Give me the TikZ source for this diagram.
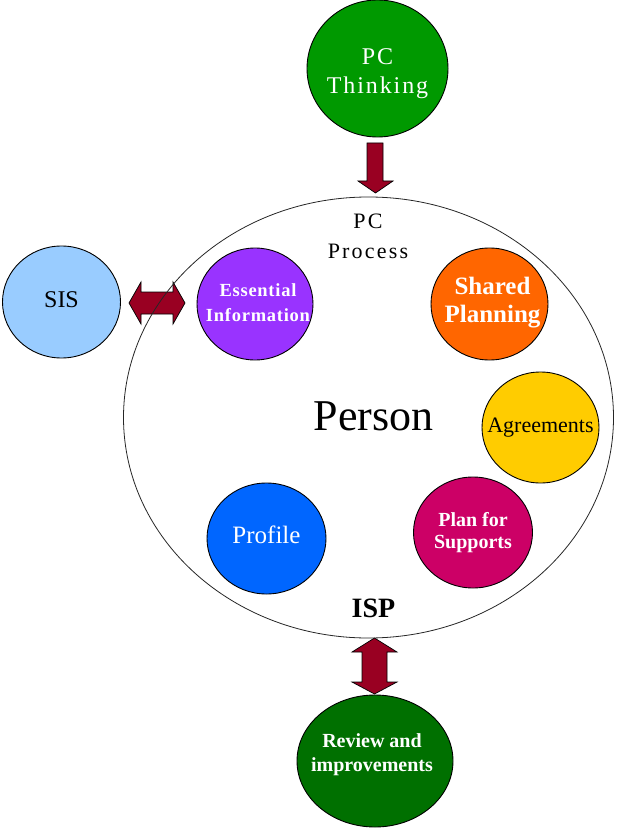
\documentclass[tikz,border=0pt]{standalone}
\usepackage{fontspec}
\setmainfont{Liberation Serif}
\usetikzlibrary{shapes.geometric,backgrounds}
\definecolor{pcgreen}{RGB}{0,153,0}
\definecolor{revgreen}{RGB}{0,112,0}
\definecolor{sisblue}{RGB}{153,204,255}
\definecolor{esspurple}{RGB}{153,51,255}
\definecolor{shorange}{RGB}{255,102,0}
\definecolor{agyellow}{RGB}{255,204,0}
\definecolor{profblue}{RGB}{0,102,255}
\definecolor{planmag}{RGB}{204,0,102}
\definecolor{arrowred}{RGB}{153,0,34}
\begin{document}
\begin{tikzpicture}[x=1pt,y=-1pt,
  bubble/.style={ellipse, draw=black, line width=0.9pt, inner sep=0pt,
    minimum width=118pt, minimum height=112pt},
  wtext/.style={inner sep=0pt, align=center, text=white},
  btext/.style={inner sep=0pt, align=center, text=black},
  fatarrow/.style={fill=arrowred, draw=black, line width=0.7pt, line join=miter},
  lbl/.style={inner sep=0pt, align=center, text=black}]
\useasboundingbox (0,0) rectangle (616,829);
% outer process ellipse
\node[ellipse, draw=black!85, line width=0.8pt, minimum width=490pt, minimum height=441pt,
  inner sep=0pt,
  label={[btext, font=\fontsize{44}{50}\selectfont, xshift=5pt, yshift=1pt]center:Person}] (big) at (368.5,417.5) {};
% bubbles
\node[bubble, fill=pcgreen, minimum width=141pt, minimum height=137pt,
  label={[wtext, yshift=-5pt, font=\fontsize{24}{29}\selectfont\addfontfeatures{LetterSpace=8}]center:PC\\Thinking}] (pct) at (377.5,68.5) {};
\node[bubble, fill=sisblue,
  label={[btext, yshift=2pt, font=\fontsize{24}{28}\selectfont]center:SIS}] (sis) at (61.5,302) {};
\node[bubble, fill=esspurple, minimum width=116pt,
  label={[wtext, xshift=3pt, yshift=1pt, font=\bfseries\fontsize{18.5}{25}\selectfont\addfontfeatures{LetterSpace=4}]center:Essential\\Information}] (ess) at (255,304) {};
\node[bubble, fill=shorange, minimum width=117pt,
  label={[wtext, xshift=3pt, yshift=1pt, font=\bfseries\fontsize{25}{28}\selectfont]center:Shared\\Planning}] (sha) at (489.5,304) {};
\node[bubble, fill=agyellow, minimum width=117pt, minimum height=111pt,
  label={[btext, font=\fontsize{22}{26}\selectfont]center:Agreements}] (agr) at (540.5,427.5) {};
\node[bubble, fill=profblue, minimum width=119pt, minimum height=111pt,
  label={[wtext, yshift=4pt, font=\fontsize{25}{28}\selectfont]center:Profile}] (pro) at (266.5,538.5) {};
\node[bubble, fill=planmag, minimum width=119pt, minimum height=111pt,
  label={[wtext, font=\bfseries\fontsize{20}{22}\selectfont]center:Plan for\\Supports}] (pla) at (473,532.5) {};
\node[bubble, fill=revgreen, minimum width=156pt, minimum height=132pt,
  label={[wtext, xshift=-3pt, yshift=6pt, font=\bfseries\fontsize{20}{24}\selectfont]center:Review and\\improvements}] (rev) at (375,761) {};
% labels inside the process ellipse
\node[lbl, font=\fontsize{22}{30}\selectfont\addfontfeatures{LetterSpace=10}] (proc) at (368,236) {PC\\Process};
\node[lbl, font=\bfseries\fontsize{28}{30}\selectfont] (isp) at (373.5,608) {ISP};
% fat arrows (behind the outlines)
\begin{scope}[on background layer]
\draw[fatarrow] (367,143) -- (383,143) -- (383,181) -- (393,181) -- (375.5,193)
  -- (358,181) -- (367,181) -- cycle;
\draw[fatarrow] (129,303) -- (141,282) -- (141,292) -- (173,292) -- (173,282) -- (185,303)
  -- (173,324) -- (173,314) -- (141,314) -- (141,324) -- cycle;
\draw[fatarrow] (374.5,638) -- (397,652) -- (387,652) -- (387,682) -- (397,682) -- (374.5,694)
  -- (352,682) -- (362,682) -- (362,652) -- (352,652) -- cycle;
\end{scope}
\end{tikzpicture}
\end{document}
